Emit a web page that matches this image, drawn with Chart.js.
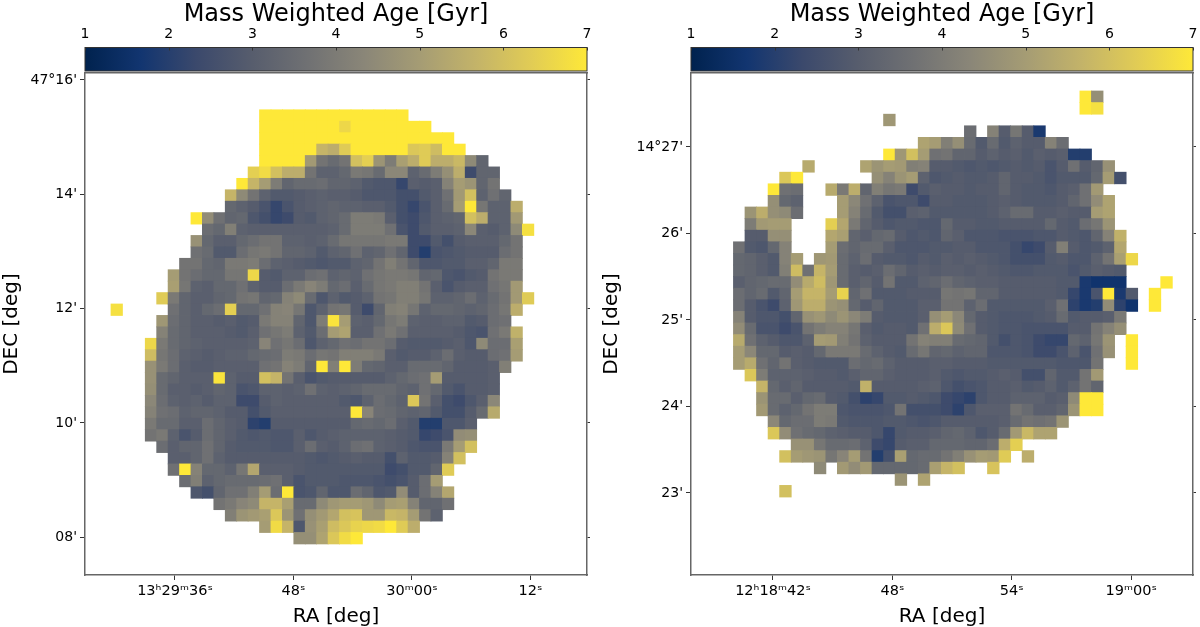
<!DOCTYPE html>
<html>
<head>
<meta charset="utf-8">
<script src="https://cdn.jsdelivr.net/npm/chart.js@4"></script>
<style>
  body { margin: 0; background: #fff; }
  canvas { position: absolute; top: 0; }
  #left { left: 0; }
  #right { left: 600px; }
</style>
</head>
<body>
<canvas id="left" width="600" height="627"></canvas>
<canvas id="right" width="600" height="627"></canvas>
<script>
// each row: first column index, then the age in Gyr per cell (null = no data)
const leftRows = [
  [15,7,7,7,7,7,7,7,7,7,7,7,7,7],
  [15,7,7,7,7,7,7,7,6.6,7,7,7,7,7,7,7],
  [15,7,7,7,7,7,7,7,7,7,7,7,7,7,7,7,7,7],
  [15,7,7,7,7,7,5.7,5.5,6.3,7,7,7,7,7,6.2,6.3,5.9,7,7],
  [15,7,7,7,7,4.9,3.5,3.2,3.5,6,6.4,4.7,3.8,5.1,5.5,6.3,5.5,5.5,5.8,4.3,3],
  [14,6.4,6.7,6,5.5,5.5,3.5,2.9,2.9,3.1,3.7,3.6,3.2,4.2,4.2,2.9,3.2,3.8,4.5,5.5,2.2,3,3],
  [13,7,5.7,5,3.8,3,3.2,3.2,3.3,3,3,2.9,2.6,2.5,2.5,2.1,2.8,2.7,2.8,4,5,4.7,3,3.5],
  [12,5.7,4.3,3.5,2.9,2.6,2.6,2.7,2.8,2.9,2.8,2.8,2.7,2.5,2.5,2.5,2.3,2.3,2.6,2.8,3.4,4.9,6,2.9,3.4,3],
  [12,3.1,2.9,2.7,2.4,2.1,2.4,2.7,2.8,2.9,3,2.9,2.9,2.8,2.8,2.6,2.3,2.1,2.4,2.8,3.2,5,7,3.6,2.9,2.9,5.5],
  [9,7,4.4,3.4,3,3.1,2.5,2.3,2.1,2.2,2.7,2.6,2.9,3,3.2,3.8,3.8,3.7,2.8,2.3,2.2,2.5,2.8,2.9,3,6,5.5,2.9,2.9,4.9],
  [10,3.3,3.1,3.9,2.9,2.8,2.8,2.8,2.8,2.8,2.8,2.8,2.9,3.2,3.8,3.8,3.8,3.4,2.4,2.2,2.6,2.8,2.8,2.9,4.2,2.8,2.7,2.9,4.3,6.8],
  [9,4.6,3.1,2.8,2.8,3.1,3.3,3.5,3.5,2.9,2.9,2.8,2.9,3.2,3.6,3.6,3.6,3.6,3.7,3.7,2.2,2.2,2.6,2.3,2.7,2.8,2.8,2.8,3.1,3.5],
  [9,3.4,3.2,2.6,2.6,3.3,3.6,3.7,3.5,3,3,2.9,2.6,2.9,3,3.4,2.9,3,3.4,3,2.2,1.9,2.4,2.5,2.6,2.7,2.7,2.7,3.3,3.5],
  [8,3.5,3.5,3.1,3,3.7,3.7,3.8,3.3,2.9,2.8,2.7,2.6,2.5,2.6,2.6,2.9,3,3.5,3.9,3.5,3,2.5,2.5,2.6,2.6,2.8,2.8,3,3.7,3.7],
  [7,5,3.5,3.3,3.1,3.1,3.6,3.6,6.6,2.7,2.6,2.9,2.9,3.3,3.4,2.9,3,2.9,3.4,3.6,3.7,3.7,3.6,3,3.1,2.5,2.4,2.6,2.7,3.5,3.7,3.7],
  [7,5.1,3.6,2.9,2.8,3.1,3.1,3.4,2.9,2.7,2.7,3.3,3.7,4.1,3.8,3.1,3.3,2.8,3.2,3.6,3.7,3.9,3.9,3.5,2.8,2.4,2.7,2.8,2.8,3.4,3.6,4.9],
  [6,6.3,3.7,3,2.8,2.8,3,3.1,3.5,3.6,3,3.1,4,4.3,3.2,2.5,2.9,2.6,2.7,2.9,3.5,3.6,3.9,3.9,3.6,2.9,2.9,3,3.3,2.9,3.2,3.5,4.9,6.3],
  [2,6.8,null,null,null,null,3.4,3,2.8,3.1,3.3,6.4,3.1,3.1,3.4,4,4.1,3.6,2.5,2.9,3.5,3.6,2.7,2.2,3,3.9,4,3.6,2.9,3.1,3.1,3,2.9,3,3.3,3.6,5.5],
  [6,4.8,3.3,3,2.8,2.8,2.7,2.8,2.6,2.7,3.7,4,4,3,2.5,3.8,6.9,5,2.9,2.8,3.1,3.6,3.8,2.9,2.8,2.8,2.9,2.9,2.6,2.7,3.3,3.4],
  [6,4,3.2,3,2.8,2.8,2.8,2.7,2.6,2.8,3.4,3.6,3.8,2.9,2.6,3.3,5,5.2,2.8,2.8,3.4,3.7,3.4,2.8,2.8,2.8,2.8,2.7,2.5,2.4,3.4,3.7,5.6],
  [5,6.6,3.7,3.2,3,2.9,2.8,2.8,2.8,2.8,2.9,4.1,3.4,3.6,3.3,2.5,2.9,3.1,3.4,3.3,3.5,3.5,3.3,2.7,2.6,2.6,2.6,2.7,2.8,2.5,4.3,3.3,3.3,5.1],
  [5,5.9,3.6,3.3,2.9,2.8,2.7,2.8,2.9,2.9,3.1,3.2,3.3,3.8,3.7,3.3,3.6,3.5,3.9,3.9,3.9,3.7,2.8,2.6,2.7,2.7,2.9,3.3,2.8,2.7,2.7,3.3,3.4,5],
  [5,4.6,3.7,3.3,2.8,2.7,2.7,2.8,2.8,2.8,2.8,3.4,3.5,4,3.8,3,7,3.9,7,3.8,3.1,3,2.8,2.8,3.2,3.2,3.2,3,2.7,2.7,2.7,2.8,3.9],
  [5,4.6,3.2,3,2.8,2.8,2.8,6.9,2.9,2.7,2.7,6,5.7,3.5,2.8,2.4,2.6,2.7,2.7,2.7,2.7,2.7,2.9,3.1,3.3,3.4,5,2.7,2.7,2.7,2.7,2.8],
  [5,4.5,3.2,2.8,2.8,2.7,2.8,3,2.9,2.4,2.5,2.9,2.9,2.8,2.9,3.4,2.9,2.8,2.9,3,3.2,3.2,3.2,3,2.9,3.4,3.1,2.6,2.4,2.7,2.7,2.8],
  [5,4.2,3.3,2.9,2.8,2.9,2.7,2.9,2.9,2.2,2.2,2.7,2.9,2.8,2.8,2.8,2.8,2.8,2.6,2.5,2.9,3.3,3.1,2.9,6.2,3.5,2.8,2.3,2.2,2.5,2.8,4.2],
  [5,4,3.4,3.3,2.9,3,3,2.9,2.7,2.7,2.3,2.6,2.8,2.8,2.8,2.8,2.8,2.8,2.8,7,4.1,3.3,3.2,3,2.9,3,2.6,2.3,2.3,2.7,3.2,5.4],
  [5,3.7,3.2,3.2,2.8,2.8,3.3,3,2.8,2.7,2,1.9,2.7,2.7,2.7,2.7,2.7,2.7,2.7,3.1,3.2,3.1,3.3,2.8,2.6,1.9,1.9,2.5,2.5,2.8],
  [5,3.5,3.7,2.9,2.4,2.7,3.3,3,2.8,2.6,2.5,2.6,2.5,2.5,2.8,2.5,2.7,2.8,2.9,2.9,2.9,2.9,2.8,2.7,2.6,2.1,2.2,2.4,4.4,4.5],
  [6,3.3,2.8,3,3,3.4,3,2.7,2.6,2.6,2.6,2.5,2.5,2.8,3.3,2.8,2.7,2.9,3.3,3.4,2.9,2.8,2.7,2.5,2.4,2.4,3.7,5,6],
  [7,2.8,2.8,3,3.4,2.9,2.7,2.7,2.7,2.7,2.7,2.7,2.7,2.6,2.5,2.6,2.7,2.8,2.7,2.7,2.3,2.9,2.6,2.6,2.7,4,6],
  [7,3.4,7,4,3.1,3.1,2.9,3.6,5.3,2.8,2.8,2.8,2.7,2.6,2.6,2.6,2.6,2.6,2.6,2.6,2.2,2.3,2.6,2.6,3,6.3],
  [8,3.3,3.9,2.9,3.1,3.2,3.2,3.2,3.3,3.4,2.8,2.4,2.6,2.6,2.6,2.5,2.5,2.5,2.4,2.3,2.4,2.7,3.3,5],
  [9,2.5,2.3,3,3.4,3.4,3.9,5,3.3,7,2.4,2.5,3,2.5,2.5,3.3,3,2.5,2.6,4.4,2.7,3.3,4,5.3],
  [11,3.5,3.7,4.1,4.3,5.7,5.7,5.1,3.2,3.2,4.3,4.8,5,5,4.8,4.3,5,5.1,4,3,3,3.4],
  [12,3.9,4.7,4.9,5.1,6.2,4.7,3.4,4.5,4.9,5.3,6,6.1,4.8,4.8,5.8,5.7,5,3.5,2.9],
  [15,5,6.7,5.7,2.5,4.6,5.1,5.9,6.2,6.5,6.6,6.7,7,6.3,5.5],
  [18,4.5,4.5,5.2,6.2,6.7,7]
];

const rightRows = [
  [30,7,4.5],
  [30,7,6.8],
  [13,4.8],
  [20,3.3,null,4,2.7,3.6,2.7,1.8],
  [16,5.2,5,3.9,4.5,3.2,2.6,3.2,2.6,2.9,2.7,2.7,4,3.3],
  [13,7,4.8,6,5,3.4,3.5,3,3,2.7,2.9,2.7,2.8,2.6,2.8,2.7,2.8,1.9,1.9],
  [6,5.4,null,null,null,null,5.2,4.7,5,4.9,3.9,4,2.7,2.7,2.6,2.5,2.6,2.5,2.6,2.7,2.6,2.7,2.4,2.7,3.4,2.7,3,4.6],
  [4,6.2,7,null,null,null,null,null,null,4.5,4,4.7,5,2.9,2.5,2.6,2.7,2.6,2.6,2.7,3,2.7,2.7,2.6,2.4,2.6,2.6,2.6,3.1,5,2.3],
  [3,7,3.4,3.3,null,null,5.4,3.7,5.5,3,3.9,3.6,3.7,2.2,2.6,2.8,2.7,2.7,2.6,2.7,2.7,3,2.7,2.6,2.6,2.5,2.7,2.8,3.4,4.9],
  [3,4.5,3.1,2.9,null,null,null,5,4.2,3.4,2.9,2.4,2.5,2.5,2.2,2.7,2.7,2.6,2.6,2.6,2.7,2.8,2.7,2.6,2.6,2.6,2.7,3,3.4,4.4,5.2],
  [1,4.7,5.5,4.5,4.3,3.3,null,null,null,5,4,3.2,2.6,2.3,2.3,2.8,2.9,2.6,2.6,2.6,2.6,2.6,2.7,2.9,3.2,3.2,2.7,2.7,2.8,2.7,2.7,5,5.2],
  [1,3.8,4.9,5,5,null,null,null,6.4,5.3,3.7,3,2.7,2.5,2.6,2.6,2.5,2.5,3.1,2.7,2.7,2.6,2.6,2.7,2.7,2.7,2.7,3.1,2.7,2.6,3.3,3.6,4.7],
  [1,2.7,2.7,4.5,4.5,null,null,null,5.3,5.1,3,2.8,3.1,3.2,2.7,2.5,2.6,2.5,3,2.8,2.5,2.5,2.5,2.4,2.4,2.4,2.5,2.5,2.7,2.6,2.5,3,4,5.6],
  [0,3.4,2.6,2.5,3.1,4,null,null,null,5,3.3,3,3.2,3.2,2.8,2.5,2.5,2.5,2.6,2.6,2.7,2.7,2.5,2.5,2.5,2.3,2.1,2.2,2.7,3.9,2.7,2.5,2.6,2.9,5.3],
  [0,3.1,3,2.8,2.6,4,5,null,4.8,4.9,3.2,2.9,3.3,2.7,2.6,2.6,2.5,2.7,2.6,2.8,2.7,2.8,2.7,2.6,2.5,2.3,2.3,2.3,2.6,2.7,2.5,2.5,2.9,3.5,5.1,6.6],
  [0,3.1,3,2.8,2.6,3.9,5.9,3.4,5.7,5,3.2,2.8,2.7,2.8,3.3,3,2.7,2.8,2.7,2.8,2.8,2.7,2.8,2.7,2.6,2.5,2.5,2.6,2.6,2.6,2.4,2.6,2.8,2.7,2.6],
  [0,2.8,3,3.1,3.2,3.2,4.4,5.4,5.9,4.8,3.2,2.8,3,2.7,3.5,2.6,2.6,2.9,3,3.3,3,2.9,2.8,2.8,2.7,2.7,2.7,2.7,2.7,2.6,2.6,1.8,1.6,1.6,1.6,null,null,null,7],
  [0,3.3,3,3.2,2.6,3,5,5.7,5.7,5,6.5,3,3.4,2.6,2.6,2.6,2.7,2.7,2.7,3.6,3.5,3.6,3,3,2.7,2.7,2.7,2.7,2.7,2.6,2.1,1.8,2.4,7,1.8,2.6,null,7],
  [0,3.3,2.7,2.4,2.2,2.9,4.8,5.5,5.5,4.7,4.5,3.1,2.7,3,2.6,2.6,2.6,2.8,2.8,3.5,3.5,2.9,3.3,2.6,2.6,2.6,2.6,2.6,2.8,3.4,2,1.8,1.9,4.4,2,1.6,null,7],
  [0,4,2.7,2.5,2.5,2.3,3,4.6,4.8,4.3,4.7,4.2,3.8,2.7,2.6,2.6,2.6,2.8,4.5,5,4.2,3.1,2.7,2.6,2.5,2.5,2.5,2.6,2.7,3.2,2.6,2.7,2.7,2.8,3.7],
  [0,4.4,3.2,2.4,2.4,2.2,2.4,3.5,3.8,4,4,3.6,2.8,2.6,2.7,2.7,2.6,3.4,5.5,6.2,4.3,3.4,2.7,2.6,2.5,2.5,2.4,2.4,2.4,2.4,2.7,2.7,3.5,4,4.5],
  [0,5.4,3.4,2.9,2.7,2.5,2.5,2.9,5,4.9,3.9,3.5,2.9,2.7,2.7,2.7,3.5,4,3.9,3.9,3.2,3.1,3,2.6,2.3,2.5,2.4,2.2,2.1,2.1,3.1,2.9,3.6,4.7,null,7],
  [0,5,4.2,3.1,3.1,2.7,2.8,2.7,3.1,3.7,3.7,3.7,3.2,2.9,2.7,2.6,3.2,3.6,3,3.1,2.9,3,3,2.5,2.5,2.5,2.4,2.2,2.2,2.4,2.9,2.4,3.4,4.6,null,7],
  [0,5,5.4,3.4,3,3.5,2.8,2.7,2.6,2.6,2.6,3.3,3.1,3.2,2.9,2.7,2.7,2.7,2.8,2.8,2.7,2.7,2.7,2.6,2.6,2.6,2.6,2.6,2.6,2.5,2.5,2.5,3.5,null,null,7],
  [1,6.2,3.8,2.9,2.9,2.9,2.8,2.7,2.7,2.6,2.8,3,3,2.8,2.7,2.7,2.7,2.8,2.6,2.5,2.6,2.6,2.7,2.8,2.7,2.3,2.3,3,2.6,2.6,3.5,4.9],
  [2,5.7,3.1,2.8,3,2.7,2.7,2.7,2.7,2.6,5.6,2.7,2.7,2.7,2.7,2.8,2.9,2.5,2.3,2.4,2.5,2.7,2.7,2.8,2.6,2.7,2.9,2.6,2.9,3.5,3],
  [2,4.7,3.2,3.2,2.8,3.1,3.2,2.7,2.6,2.3,2,2.1,2.6,2.6,2.7,2.6,2.5,2.2,2.1,2,2.5,2.7,2.7,2.9,2.9,2.9,2.7,2.8,4.3,7,7],
  [2,4.9,3.2,2.9,3.1,3.5,3.8,3.8,2.5,2.4,2.4,2.4,2.5,3.5,2.3,2.3,2.3,2.2,2,2.5,2.8,2.8,2.8,3.5,3.2,2.8,2.8,3,4.7,7,7],
  [3,4.2,3.1,3.3,3.3,3.8,3.7,2.6,2.5,2.5,2.5,2.6,2.6,2.5,2.4,2.5,2.7,2.7,2.7,2.7,2.7,2.8,3.2,3.5,3.4,3.5,4.7],
  [3,6.2,4.4,3.4,3.2,3.1,2.9,2.8,2.7,2.7,2.5,2.1,2.6,2.7,2.7,2.8,3,3.1,2.9,2.5,2.7,3.2,4.9,5.8,5.2,5.2],
  [5,4.6,4.6,3.6,3.2,3.2,3.3,2.9,2.2,2.1,2.7,2.8,2.8,3.1,3.1,3.1,3,3,3.3,5.5,6.4],
  [4,6,5,4.8,4.7,3.6,4.1,5,3.5,1.9,2.3,5.1,3.1,3.2,3.2,3.5,3.9,4.6,5,4.9,6.3,null,5.5],
  [7,4.3,null,4.9,4.4,4.9,3.1,3.1,3.1,3.1,3.2,5.1,5.7,6,null,null,6.1],
  [14,4.7,null,5.2],
  [4,6]
];

const ageTicks = [1, 2, 3, 4, 5, 6, 7];
const leftRaTicks = [36, 48, 60, 72];
const leftRaLabels = ['13ʰ29ᵐ36ˢ', '48ˢ', '30ᵐ00ˢ', '12ˢ'];
const leftDecTicks = [16, 14, 12, 10, 8];
const leftDecLabels = ["47°16'", "14'", "12'", "10'", "08'"];
const rightRaTicks = [42, 48, 54, 60];
const rightRaLabels = ['12ʰ18ᵐ42ˢ', '48ˢ', '54ˢ', '19ᵐ00ˢ'];
const rightDecTicks = [27, 26, 25, 24, 23];
const rightDecLabels = ["14°27'", "26'", "25'", "24'", "23'"];

// cividis, ten even stops
const cividis = [[0,34,78],[18,53,112],[59,73,108],[87,93,109],[112,113,115],[138,134,120],[165,156,116],[195,179,105],[225,204,85],[254,232,56]];

// the ages above were read by eye and came out low in the gray range
const readAge = [1, 1.8, 2.4, 4, 5, 7];
const fixedAge = [1, 1.8, 2.7, 4.2, 5, 7];

function calibrate(age) {
    let i = 0;
    while (i < readAge.length - 2 && age > readAge[i + 1]) i++;
    const f = (age - readAge[i]) / (readAge[i + 1] - readAge[i]);
    return fixedAge[i] + (fixedAge[i + 1] - fixedAge[i]) * f;
}

function age_colour(age) {
    const t = Math.min(Math.max((age - 1) / 6, 0), 1) * (cividis.length - 1);
    const i = Math.min(Math.floor(t), cividis.length - 2);
    const f = t - i;
    const c = cividis[i].map((v, k) => Math.round(v + (cividis[i + 1][k] - v) * f));
    return `rgb(${c[0]},${c[1]},${c[2]})`;
}

function build_cells(rows, p) {
    const cells = [];
    rows.forEach((row, r) => {
        row.slice(1).forEach((age, i) => {
            if (age === null) return;
            cells.push({
                x: p.ra0 + (row[0] + i + 0.5) * p.raStep,
                y: p.dec0 - (r + 0.5) * p.decStep,
                age: calibrate(age)
            });
        });
    });
    return cells;
}

// colour bar sits in the band above the plot, drawn along the age scale
const colourBar = {
    id: 'colourBar',
    afterDraw(chart) {
        const ctx = chart.ctx;
        const age = chart.scales.age;
        const top = 47.5, bottom = 71;
        const x0 = age.getPixelForValue(1), x1 = age.getPixelForValue(7);
        const grad = ctx.createLinearGradient(x0, 0, x1, 0);
        cividis.forEach((c, i) => grad.addColorStop(i / (cividis.length - 1), `rgb(${c[0]},${c[1]},${c[2]})`));
        ctx.save();
        ctx.fillStyle = grad;
        ctx.fillRect(x0, top, x1 - x0, bottom - top);
        ctx.strokeStyle = '#333';
        ctx.lineWidth = 1;
        ctx.strokeRect(x0, top, x1 - x0, bottom - top);
        ctx.beginPath();
        ageTicks.forEach(v => {
            const x = Math.round(age.getPixelForValue(v)) + 0.5;
            ctx.moveTo(x, top);
            ctx.lineTo(x, top + 3);
        });
        ctx.stroke();
        ctx.restore();
    }
};

function create_panel(id, rows, p) {
    const tickFont = { family: 'DejaVu Sans', size: 14 };
    const labelFont = { family: 'DejaVu Sans', size: 20 };
    const spine = { display: true, color: '#666', width: 1.5 };
    const tickGrid = { drawOnChartArea: false, tickLength: 5, tickColor: '#333', tickWidth: 1 };
    return new Chart(document.getElementById(id), {
        type: 'scatter',
        data: {
            datasets: [{
                data: build_cells(rows, p),
                pointStyle: 'rect',
                pointBorderWidth: 0,
                pointRadius: ctx => {
                    const s = ctx.chart.scales.x;
                    return (s.getPixelForValue(p.raStep) - s.getPixelForValue(0) + 0.8) / Math.SQRT2;
                },
                pointBackgroundColor: ctx => age_colour(ctx.raw ? ctx.raw.age : 4)
            }]
        },
        options: {
            responsive: false,
            animation: false,
            events: [],
            layout: { padding: 0 },
            plugins: { legend: { display: false }, tooltip: { enabled: false } },
            scales: {
                x: {
                    type: 'linear', position: 'bottom', min: p.raMin, max: p.raMax,
                    afterBuildTicks: s => { s.ticks = p.raTicks.map(v => ({ value: v })); },
                    afterFit: s => { s.height = 52; },
                    ticks: {
                        autoSkip: false, maxRotation: 0, color: '#000', font: { family: 'DejaVu Sans', size: 14.5 }, padding: 3,
                        callback: (v, i) => p.raLabels[i]
                    },
                    grid: tickGrid, border: spine,
                    title: { display: true, text: 'RA [deg]', color: '#000', font: labelFont, padding: { top: 0, bottom: -2 } }
                },
                y: {
                    type: 'linear', position: 'left', min: p.decMin, max: p.decMax,
                    afterBuildTicks: s => { s.ticks = p.decTicks.map(v => ({ value: v })); },
                    afterFit: s => { s.width = p.left; },
                    ticks: {
                        autoSkip: false, color: '#000', font: tickFont, padding: 3,
                        callback: (v, i) => p.decLabels[i]
                    },
                    grid: tickGrid, border: spine,
                    title: { display: true, text: 'DEC [deg]', color: '#000', font: labelFont, padding: { top: 0, bottom: 0 } }
                },
                y2: {
                    type: 'linear', position: 'right', min: p.decMin, max: p.decMax,
                    afterBuildTicks: s => { s.ticks = p.decTicks.map(v => ({ value: v })); },
                    afterFit: s => { s.width = p.right; },
                    ticks: { display: true, callback: () => '', padding: 0 },
                    grid: { drawOnChartArea: false, tickLength: 3, tickColor: '#333' },
                    border: spine
                },
                age: {
                    type: 'linear', position: 'top', min: 1, max: 7,
                    afterBuildTicks: s => { s.ticks = ageTicks.map(v => ({ value: v })); },
                    afterFit: s => { s.height = 73; },
                    ticks: { autoSkip: false, maxRotation: 0, color: '#000', font: tickFont, padding: 0 },
                    // tick marks are invisible here, they only lift the labels over the colour bar
                    grid: { drawOnChartArea: false, tickLength: 30, tickColor: 'rgba(0,0,0,0)' }, border: spine,
                    title: { display: true, text: 'Mass Weighted Age [Gyr]', color: '#000', font: { family: 'DejaVu Sans', size: 24 }, padding: 0 }
                }
            }
        },
        plugins: [colourBar]
    });
}

create_panel('left', leftRows, {
    left: 85, right: 13,
    raMin: 26.89, raMax: 77.72, raTicks: leftRaTicks, raLabels: leftRaLabels, ra0: 27.21, raStep: 1.157,
    decMin: 7.34, decMax: 16.12, decTicks: leftDecTicks, decLabels: leftDecLabels, dec0: 15.476, decStep: 0.1998
});
create_panel('right', rightRows, {
    left: 91, right: 7,
    raMin: 37.88, raMax: 63.11, raTicks: rightRaTicks, raLabels: rightRaLabels, ra0: 40.015, raStep: 0.5804,
    decMin: 22.052, decMax: 27.855, decTicks: rightDecTicks, decLabels: rightDecLabels, dec0: 27.647, decStep: 0.1341
});
</script>
</body>
</html>
